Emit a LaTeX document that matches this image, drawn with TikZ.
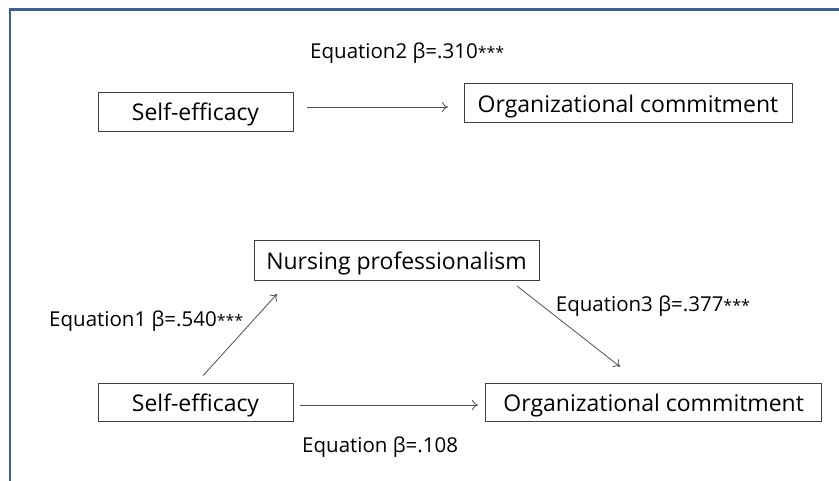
\documentclass[tikz,border=0pt]{standalone}
\usepackage{fontspec}
\setmainfont{Open Sans}
\usetikzlibrary{arrows.meta}
\definecolor{framecol}{HTML}{3C6190}
\definecolor{boxline}{HTML}{404040}
\definecolor{arrline}{HTML}{505050}
\newcommand{\stars}{{\fontsize{16}{18}\selectfont***}}
\tikzset{
  varbox/.style={draw=boxline, line width=0.9pt, inner sep=0pt, text height=18.4pt, text depth=0pt, font=\fontsize{23}{26}\selectfont},
  eqlabel/.style={anchor=base west, inner sep=0pt, font=\fontsize{20.5}{24}\selectfont},
  link/.style={draw=arrline, line width=0.8pt, -{To[length=6pt,width=10pt]}}
}
\begin{document}
\begin{tikzpicture}[x=1pt,y=-1pt]
\useasboundingbox (0,0) rectangle (839,480);
\fill[white] (0,0) rectangle (839,480);
\draw[framecol, line width=2.2pt] (10,481) -- (10,9.5) -- (840,9.5);
% top model
\node[varbox, minimum width=195pt, minimum height=39pt] (se1) at (195.5,111.5) {Self-efficacy};
\node[varbox, minimum width=328pt, minimum height=39pt] (oc1) at (628,103) {Organizational commitment};
\coordinate (a1s) at (307,107);
\coordinate (a1e) at (448,107);
\draw[link] (a1s) -- (a1e);
\node[eqlabel] (l2) at (310,58) {Equation2 β=.310\stars};
% bottom model
\node[varbox, minimum width=285pt, minimum height=39.5pt] (np) at (396.5,260.5) {Nursing professionalism};
\node[varbox, minimum width=195pt, minimum height=38pt] (se2) at (195.5,402) {Self-efficacy};
\node[varbox, minimum width=336pt, minimum height=38pt] (oc2) at (653.7,402) {Organizational commitment};
\coordinate (b1s) at (203,375.7);
\coordinate (b1e) at (277,294);
\coordinate (b2s) at (517,286);
\coordinate (b2e) at (620,366.7);
\coordinate (b3s) at (300,405);
\coordinate (b3e) at (478,405);
\draw[link] (b1s) -- (b1e);
\draw[link] (b2s) -- (b2e);
\draw[link] (b3s) -- (b3e);
\node[eqlabel] (l1) at (49,326.7) {Equation1 β=.540\stars};
\node[eqlabel] (l3) at (555.7,311.7) {Equation3 β=.377\stars};
\node[eqlabel] (l0) at (302,452.7) {Equation β=.108};
\end{tikzpicture}
\end{document}
